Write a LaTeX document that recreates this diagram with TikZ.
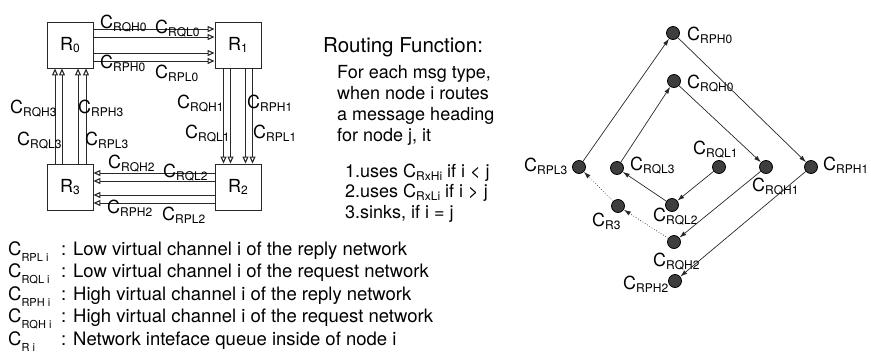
\documentclass[tikz,border=0pt]{standalone}
\usepackage{fontspec}
\setmainfont{TeX Gyre Heros}
\definecolor{chline}{RGB}{40, 40, 40}
\definecolor{chfill}{RGB}{62, 62, 62}
\usetikzlibrary{arrows.meta, positioning}

\newcommand{\chn}[1]{C\raisebox{-3pt}{\fontsize{12}{12}\selectfont #1}}
\newcommand{\lgd}[1]{C\raisebox{-6pt}{\fontsize{11}{11}\selectfont #1}}
\newcommand{\rtr}[1]{R\raisebox{-2pt}{\fontsize{12}{12}\selectfont #1}}

\tikzset{
  router/.style={draw=chline, line width=0.8pt, minimum size=46pt, inner sep=0pt, font=\fontsize{18}{18}\selectfont},
  chanline/.style={draw=chline, line width=0.8pt, -{Triangle[open, length=7pt, width=6pt, line width=1.1pt]}},
  chlabel/.style={anchor=base west, inner sep=0pt, font=\fontsize{18}{18}\selectfont},
  bodytext/.style={anchor=base west, inner sep=0pt, font=\fontsize{18}{18}\selectfont},
  vcnode/.style={circle, draw=black, fill=chfill, minimum size=13pt, inner sep=0pt, line width=0.8pt},
  dep/.style={draw=chline, line width=0.7pt, -{Latex[length=7pt, width=4.5pt]}},
}

\begin{document}
\begin{tikzpicture}[x=1pt, y=-1pt]
\useasboundingbox (0,0) rectangle (871,354);

% routers
\node[router] (R0) at (70,45) {\rtr{0}};
\node[router] (R1) at (238,45) {\rtr{1}};
\node[router] (R2) at (238,187) {\rtr{2}};
\node[router] (R3) at (70,187) {\rtr{3}};

% channels between routers
\foreach \s in {16,8,-8,-16}
  \draw[chanline] ([yshift=\s]R0.east) -- ([yshift=\s]R1.west);
\foreach \s in {-14.5,-7.5,7.5,14.5}
  \draw[chanline] ([xshift=\s]R1.south) -- ([xshift=\s]R2.north);
\foreach \s in {14,6,-8,-16}
  \draw[chanline] ([yshift=\s]R2.west) -- ([yshift=\s]R3.east);
\foreach \s in {-15,-8,8,16}
  \draw[chanline] ([xshift=\s]R3.north) -- ([xshift=\s]R0.south);

% channel labels
\node[chlabel] (lRQH0) at (100,28) {\chn{RQH0}};
\node[chlabel] (lRQL0) at (155,33) {\chn{RQL0}};
\node[chlabel] (lRPH0) at (100,68) {\chn{RPH0}};
\node[chlabel] (lRPL0) at (155,78) {\chn{RPL0}};
\node[chlabel] (lRQH1) at (177,108) {\chn{RQH1}};
\node[chlabel] (lRPH1) at (247,108) {\chn{RPH1}};
\node[chlabel] (lRQL1) at (185,138) {\chn{RQL1}};
\node[chlabel] (lRPL1) at (253,138) {\chn{RPL1}};
\node[chlabel] (lRQH3) at (10,113) {\chn{RQH3}};
\node[chlabel] (lRPH3) at (78,113) {\chn{RPH3}};
\node[chlabel] (lRQL3) at (17,145) {\chn{RQL3}};
\node[chlabel] (lRPL3) at (85,145) {\chn{RPL3}};
\node[chlabel] (lRQH2) at (108,168) {\chn{RQH2}};
\node[chlabel] (lRQL2) at (163,177) {\chn{RQL2}};
\node[chlabel] (lRPH2) at (107,213) {\chn{RPH2}};
\node[chlabel] (lRPL2) at (162,220) {\chn{RPL2}};

% routing function
\node[anchor=base west, inner sep=0pt, font=\fontsize{20.5}{20.5}\selectfont] (rfTitle) at (323,52) {Routing Function:};
\foreach \txt [count=\k] in {{For each msg type,},{when node i routes},{a message heading},{for node j, it}}
  \node[bodytext] (rfBody\k) at (337,57+21*\k) {\txt};
\node[bodytext] (rfRule1) at (345,177) {1.uses \chn{RxHi} if i < j};
\node[bodytext] (rfRule2) at (345,197) {2.uses \chn{RxLi} if i > j};
\node[bodytext] (rfRule3) at (345,218) {3.sinks, if i = j};

% legend
\foreach \sub/\desc [count=\k] in {RPL i/Low virtual channel i of the reply network,
    RQL i/Low virtual channel i of the request network,
    RPH i/High virtual channel i of the reply network,
    RQH i/High virtual channel i of the request network,
    R i/Network inteface queue inside of node i} {
  \node[bodytext, font=\fontsize{18.5}{18.5}\selectfont] (key\k) at (8,232.5+22.5*\k) {\lgd{\sub}};
  \node[bodytext, font=\fontsize{18.5}{18.5}\selectfont] (desc\k) at (61,232.5+22.5*\k) {: \desc};
}

% channel dependency graph
\node[vcnode] (vRPH0) at (673,33) {};
\node[vcnode] (vRQH0) at (674,81) {};
\node[vcnode] (vRPL3) at (579,167) {};
\node[vcnode] (vRQL3) at (617,168) {};
\node[vcnode] (vRQL1) at (719,167) {};
\node[vcnode] (vRQH1) at (766,167) {};
\node[vcnode] (vRPH1) at (811,167) {};
\node[vcnode] (vRQL2) at (672,205) {};
\node[vcnode] (vR3) at (618,206) {};
\node[vcnode] (vRQH2) at (674,242) {};
\node[vcnode] (vRPH2) at (675,281) {};

\node[chlabel] (gRPH0) at (687,40) {\chn{RPH0}};
\node[chlabel] (gRQH0) at (687,88) {\chn{RQH0}};
\node[chlabel] (gRPL3) at (524,171) {\chn{RPL3}};
\node[chlabel] (gRQL3) at (630,170) {\chn{RQL3}};
\node[chlabel] (gRQL1) at (693,154) {\chn{RQL1}};
\node[chlabel] (gRQH1) at (752,191) {\chn{RQH1}};
\node[chlabel] (gRPH1) at (823,170) {\chn{RPH1}};
\node[chlabel] (gRQL2) at (653,221) {\chn{RQL2}};
\node[chlabel] (gR3) at (592,226) {\chn{R3}};
\node[chlabel] (gRQH2) at (653,266) {\chn{RQH2}};
\node[chlabel] (gRPH2) at (623,289) {\chn{RPH2}};

\draw[dep] (vRPL3) -- (vRPH0);
\draw[dep] (vRPH0) -- (vRPH1);
\draw[dep] (vRPH1) -- (vRPH2);
\draw[dep] (vRQL3) -- (vRQH0);
\draw[dep] (vRQH0) -- (vRQH1);
\draw[dep] (vRQH1) -- (vRQH2);
\draw[dep] (vRQL1) -- (vRQL2);
\draw[dep] (vRQL2) -- (vRQL3);
\draw[dep, dotted] (vRQH2) -- (vR3);
\draw[dep, dotted] (vR3) -- (vRPL3);
\end{tikzpicture}
\end{document}
